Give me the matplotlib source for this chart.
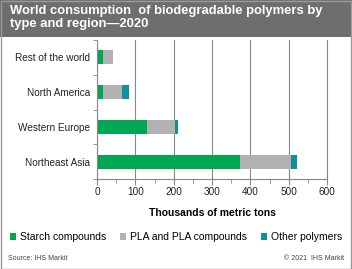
import numpy as np
import matplotlib
matplotlib.use("Agg")
import matplotlib.pyplot as plt
from matplotlib.patches import Rectangle

plt.rcParams['font.family'] = ['Liberation Sans', 'DejaVu Sans']

# data, thousands of metric tons
regions = ["Northeast Asia", "Western Europe", "North America", "Rest of the world"]
starch = [372, 130, 15, 15]
pla = [133, 74, 50, 26]
other = [16, 7, 18, 0]
series_names = ["Starch compounds", "PLA and PLA compounds", "Other polymers"]
colors = ["#00a651", "#b2b2b2", "#10909a"]

W, H = 352, 269
fig = plt.figure(figsize=(W / 100, H / 100), dpi=100)

# title banner
fig.patches.append(Rectangle((0, 1 - 37 / H), 1, 37 / H, transform=fig.transFigure,
                             facecolor="#6e6e6e", edgecolor="none"))
fig.text(10 / W, 1 - 5 / H, "World consumption  of biodegradable polymers by\ntype and region\u20142020",
         color="white", fontweight="bold", fontsize=9.35, va="top", ha="left", linespacing=1.08)
# outer border
fig.patches.append(Rectangle((0.5 / W, 0.5 / H), 1 - 2 / W, 1 - 1.5 / H, transform=fig.transFigure,
                             facecolor="none", edgecolor="#9a9a9a", lw=1))

ax = fig.add_axes([97 / W, 1 - 179 / H, 230 / W, 139 / H])
y = np.arange(len(regions))
left = np.zeros(len(regions))
for vals, name, c in zip([starch, pla, other], series_names, colors):
    ax.barh(y, vals, left=left, height=0.4, color=c, label=name)
    left += np.array(vals)

ax.set_xlim(0, 600)
ax.set_ylim(-0.5, 3.5)
ax.set_xticks(np.arange(0, 601, 100))
ax.set_xticks(np.arange(0, 601, 50), minor=True)
ax.set_yticks(y)
ax.set_yticklabels(regions)
ax.set_yticks(np.arange(-0.5, 3.6, 1), minor=True)
ax.tick_params(axis="y", which="major", length=0, labelsize=7.2, pad=5, colors="#222222")
ax.tick_params(axis="y", which="minor", length=3, color="#888888")
ax.tick_params(axis="x", which="major", length=4, labelsize=7.2, pad=2, color="#888888", labelcolor="#222222")
ax.tick_params(axis="x", which="minor", length=3, color="#888888")
ax.grid(axis="x", color="#888888", lw=0.8)
ax.set_axisbelow(True)
ax.spines["top"].set_visible(False)
for s in ["left", "bottom", "right"]:
    ax.spines[s].set_color("#888888")
    ax.spines[s].set_linewidth(0.8)
ax.set_xlabel("Thousands of metric tons", fontsize=7.5, fontweight="bold", labelpad=8)

handles, labels = ax.get_legend_handles_labels()
fig.legend(handles, labels, loc="center", bbox_to_anchor=(0.5, 1 - 237 / H), ncol=3,
           frameon=False, fontsize=7.5, handlelength=0.6, handleheight=0.6,
           handletextpad=0.4, columnspacing=1.3, borderaxespad=0)

fig.text(8 / W, 1 - 258 / H, "Source: IHS Markit", fontsize=5, color="#444444", va="center")
fig.text(344 / W, 1 - 258 / H, "\u00a9 2021  IHS Markit", fontsize=5, color="#444444", va="center", ha="right")

fig.savefig("out.png", dpi=100)
